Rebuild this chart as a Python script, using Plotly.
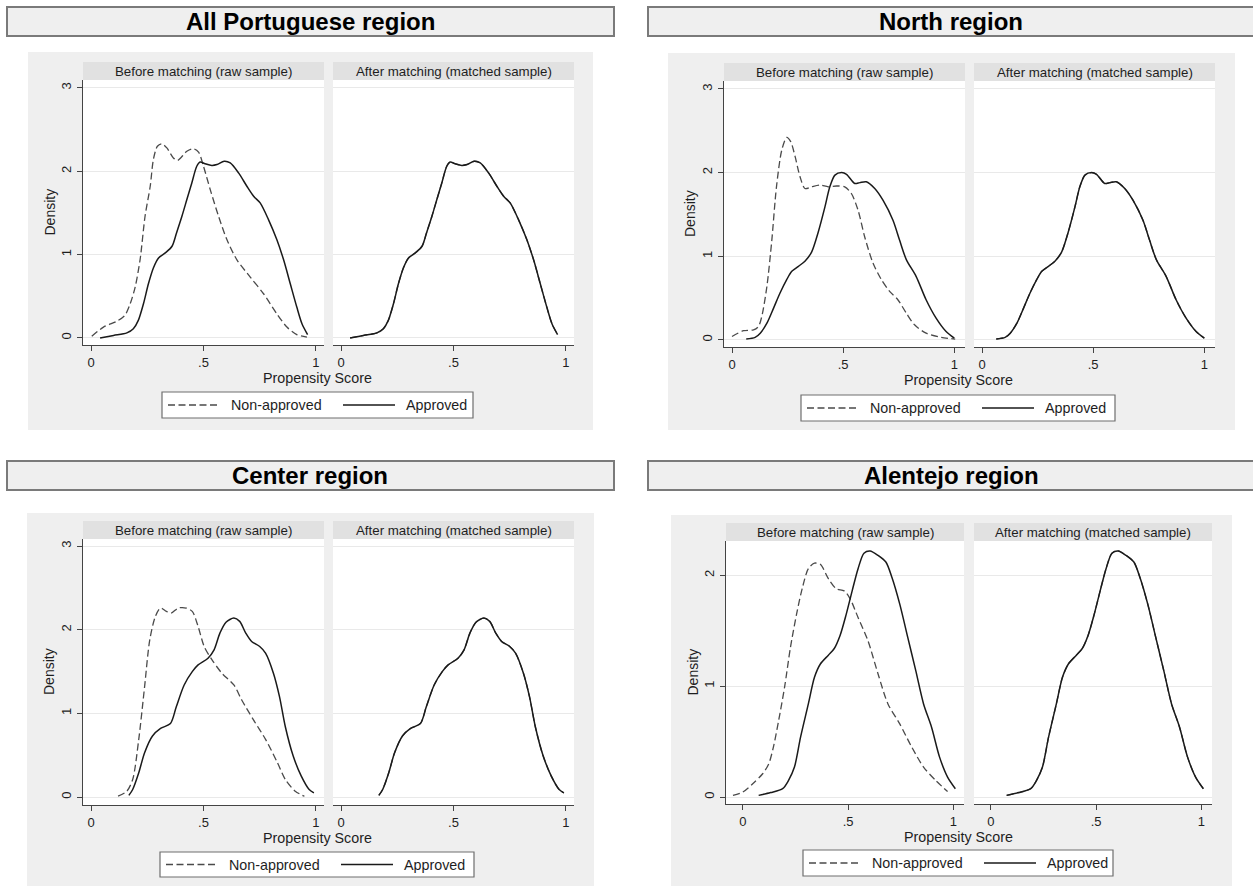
import plotly.graph_objects as go

W, H = 1253, 886

# ---------------- data ----------------
region_titles = ["All Portuguese region", "North region", "Center region", "Alentejo region"]
panel_titles = ["Before matching (raw sample)", "After matching (matched sample)"]
legend_labels = ["Non-approved", "Approved"]
x_title = "Propensity Score"
y_title = "Density"
x_tickvals = [0, 0.5, 1]
x_ticktext = ["0", ".5", "1"]
y_ticks_3 = [0, 1, 2, 3]
y_ticks_2 = [0, 1, 2]

# All Portuguese region
all_non_x = [0.003, 0.055, 0.114, 0.15, 0.174, 0.196, 0.218, 0.24, 0.263, 0.277, 0.295, 0.315, 0.337, 0.366,
             0.385, 0.426, 0.455, 0.478, 0.5, 0.53, 0.567, 0.604, 0.648, 0.708, 0.767, 0.826, 0.871, 0.915, 0.96]
all_non_y = [0.02, 0.13, 0.2, 0.27, 0.41, 0.61, 0.94, 1.46, 1.82, 2.14, 2.30, 2.33, 2.28, 2.16,
             2.13, 2.24, 2.27, 2.23, 2.06, 1.78, 1.46, 1.18, 0.94, 0.73, 0.53, 0.29, 0.13, 0.04, 0.01]
all_app_x = [0.04, 0.1, 0.159, 0.188, 0.21, 0.233, 0.255, 0.277, 0.3, 0.33, 0.36, 0.38, 0.404, 0.426, 0.448,
             0.47, 0.485, 0.507, 0.537, 0.56, 0.592, 0.619, 0.656, 0.693, 0.723, 0.752, 0.789, 0.826, 0.856,
             0.886, 0.915, 0.938, 0.963]
all_app_y = [0.0, 0.03, 0.06, 0.11, 0.21, 0.41, 0.65, 0.84, 0.96, 1.02, 1.1, 1.26, 1.46, 1.66, 1.86,
             2.06, 2.11, 2.09, 2.07, 2.08, 2.12, 2.10, 1.98, 1.82, 1.70, 1.62, 1.42, 1.18, 0.94,
             0.65, 0.37, 0.17, 0.04]

# North region
north_non_x = [0.0, 0.052, 0.097, 0.119, 0.134, 0.157, 0.179, 0.2, 0.224, 0.246, 0.264, 0.284, 0.306, 0.328,
               0.358, 0.396, 0.433, 0.47, 0.507, 0.537, 0.567, 0.597, 0.634, 0.672, 0.709, 0.746, 0.784,
               0.821, 0.873, 0.94, 1.004]
north_non_y = [0.04, 0.11, 0.12, 0.16, 0.28, 0.64, 1.19, 1.83, 2.27, 2.42, 2.37, 2.19, 1.95, 1.81,
               1.83, 1.85, 1.83, 1.84, 1.83, 1.75, 1.55, 1.23, 0.92, 0.72, 0.58, 0.48, 0.32,
               0.18, 0.08, 0.03, 0.01]
north_app_x = [0.064, 0.104, 0.127, 0.157, 0.187, 0.216, 0.246, 0.269, 0.299, 0.328, 0.358, 0.388, 0.418,
               0.44, 0.463, 0.493, 0.515, 0.552, 0.575, 0.604, 0.642, 0.679, 0.724, 0.754, 0.784, 0.828,
               0.873, 0.918, 0.963, 1.0]
north_app_y = [0.01, 0.03, 0.08, 0.2, 0.38, 0.56, 0.72, 0.82, 0.88, 0.94, 1.05, 1.29, 1.59,
               1.83, 1.97, 2.0, 1.98, 1.87, 1.88, 1.89, 1.81, 1.67, 1.43, 1.19, 0.96, 0.76,
               0.48, 0.26, 0.1, 0.02]

# Center region
center_non_x = [0.12, 0.159, 0.185, 0.212, 0.238, 0.261, 0.286, 0.309, 0.335, 0.356, 0.388, 0.423, 0.45,
                0.476, 0.503, 0.538, 0.582, 0.635, 0.67, 0.723, 0.776, 0.829, 0.864, 0.908, 0.949]
center_non_y = [0.01, 0.07, 0.21, 0.69, 1.32, 1.88, 2.16, 2.26, 2.22, 2.2, 2.26, 2.26, 2.22,
                2.04, 1.8, 1.64, 1.48, 1.34, 1.16, 0.92, 0.69, 0.41, 0.21, 0.07, 0.01]
center_app_x = [0.168, 0.185, 0.212, 0.238, 0.273, 0.309, 0.353, 0.379, 0.414, 0.45, 0.476, 0.52, 0.547,
                0.573, 0.6, 0.635, 0.661, 0.688, 0.714, 0.75, 0.776, 0.811, 0.838, 0.864, 0.899, 0.935,
                0.97, 0.991]
center_app_y = [0.02, 0.09, 0.29, 0.53, 0.73, 0.82, 0.88, 1.08, 1.34, 1.5, 1.58, 1.66, 1.76,
                1.96, 2.09, 2.14, 2.1, 1.96, 1.86, 1.8, 1.72, 1.48, 1.2, 0.84, 0.49, 0.25,
                0.09, 0.05]

# Alentejo region
alentejo_non_x = [-0.047, 0.0, 0.047, 0.094, 0.123, 0.145, 0.17, 0.198, 0.226, 0.255, 0.283, 0.311, 0.34,
                  0.368, 0.406, 0.443, 0.481, 0.509, 0.547, 0.594, 0.642, 0.689, 0.745, 0.802, 0.858,
                  0.915, 0.972]
alentejo_non_y = [0.015, 0.045, 0.12, 0.21, 0.3, 0.45, 0.69, 0.99, 1.35, 1.65, 1.89, 2.06, 2.11,
                  2.1, 1.97, 1.88, 1.86, 1.79, 1.62, 1.41, 1.11, 0.84, 0.66, 0.45, 0.27,
                  0.15, 0.05]
alentejo_app_x = [0.075, 0.132, 0.189, 0.217, 0.245, 0.274, 0.311, 0.34, 0.368, 0.406, 0.434, 0.462, 0.491,
                  0.519, 0.547, 0.575, 0.604, 0.642, 0.679, 0.708, 0.745, 0.783, 0.821, 0.858, 0.896,
                  0.934, 0.972, 1.009]
alentejo_app_y = [0.015, 0.04, 0.075, 0.15, 0.27, 0.54, 0.84, 1.08, 1.2, 1.28, 1.34, 1.46, 1.65,
                  1.86, 2.06, 2.2, 2.22, 2.18, 2.12, 1.98, 1.74, 1.44, 1.14, 0.84, 0.63,
                  0.36, 0.18, 0.075]

region_data = [
    (all_non_x, all_non_y, all_app_x, all_app_y),
    (north_non_x, north_non_y, north_app_x, north_app_y),
    (center_non_x, center_non_y, center_app_x, center_app_y),
    (alentejo_non_x, alentejo_non_y, alentejo_app_x, alentejo_app_y),
]

# ---------------- layout geometry (pixels) ----------------
quads = [
    dict(title_box=(7, 7, 614, 36), title_cx=310, bg=(28, 52, 593, 430),
         plots=[(83, 324), (333, 574)], py=(80, 345),
         xr=[-0.036, 1.036], yr=[-0.085, 3.095], yt=y_ticks_3,
         dens_x=49, ps=(317, 378), leg=(162, 392, 473, 418)),
    dict(title_box=(648, 7, 1262, 36), title_cx=951, bg=(668, 53, 1235, 430),
         plots=[(724, 965), (974, 1215)], py=(81, 347),
         xr=[-0.036, 1.048], yr=[-0.085, 3.095], yt=y_ticks_3,
         dens_x=690, ps=(958, 380), leg=(801, 395, 1115, 421)),
    dict(title_box=(7, 461, 614, 490), title_cx=310, bg=(27, 513, 594, 890),
         plots=[(83, 324), (333, 574)], py=(539, 805),
         xr=[-0.036, 1.036], yr=[-0.095, 3.085], yt=y_ticks_3,
         dens_x=49, ps=(317, 838), leg=(160, 852, 474, 877)),
    dict(title_box=(648, 461, 1262, 490), title_cx=951, bg=(671, 515, 1232, 890),
         plots=[(726, 964), (974, 1212)], py=(541, 804),
         xr=[-0.08, 1.05], yr=[-0.063, 2.31], yt=y_ticks_2,
         dens_x=692, ps=(958, 837), leg=(803, 850, 1113, 876)),
]


def px(x):
    return x / W


def py_(y):
    return 1 - y / H


FONT = "Liberation Sans, Arial, sans-serif"
TXT = "#1e1e1e"
NON_COLOR = "#4a4a4a"
APP_COLOR = "#1a1a1a"
DASH = "7px,3.5px"

fig = go.Figure()
shapes = []
annotations = []
layout_axes = {}

ax_idx = 0
for qi, q in enumerate(quads):
    # title box
    x0, y0, x1, y1 = q["title_box"]
    shapes.append(dict(type="rect", xref="paper", yref="paper", x0=px(x0), x1=px(x1), y0=py_(y1), y1=py_(y0),
                       fillcolor="#efefef", line=dict(color="#7a7a7a", width=2), layer="below"))
    annotations.append(dict(x=px(q["title_cx"]), y=py_((y0 + y1) / 2), xref="paper", yref="paper",
                            text="<b>" + region_titles[qi] + "</b>", showarrow=False,
                            font=dict(family=FONT, size=24, color="#000000"),
                            xanchor="center", yanchor="middle"))
    # grey graph region
    bx0, by0, bx1, by1 = q["bg"]
    shapes.append(dict(type="rect", xref="paper", yref="paper", x0=px(bx0), x1=px(bx1), y0=py_(by1), y1=py_(by0),
                       fillcolor="#efefef", line=dict(width=0), layer="below"))
    top, bot = q["py"]
    non_x, non_y, app_x, app_y = region_data[qi]
    for pi, (lx, rx) in enumerate(q["plots"]):
        ax_idx += 1
        suffix = "" if ax_idx == 1 else str(ax_idx)
        # white plot area
        shapes.append(dict(type="rect", xref="paper", yref="paper", x0=px(lx), x1=px(rx), y0=py_(bot), y1=py_(top),
                           fillcolor="#ffffff", line=dict(width=0), layer="below"))
        # strip
        shapes.append(dict(type="rect", xref="paper", yref="paper", x0=px(lx), x1=px(rx), y0=py_(top), y1=py_(top - 18),
                           fillcolor="#e1e1e1", line=dict(width=0), layer="below"))
        annotations.append(dict(x=px((lx + rx) / 2), y=py_(top - 9), xref="paper", yref="paper",
                                text=panel_titles[pi], showarrow=False,
                                font=dict(family=FONT, size=13.3, color=TXT),
                                xanchor="center", yanchor="middle"))
        layout_axes["xaxis" + suffix] = dict(
            domain=[px(lx), px(rx)], range=q["xr"], anchor="y" + suffix,
            tickvals=x_tickvals, ticktext=x_ticktext, ticks="outside", ticklen=5, tickcolor="#444",
            showline=True, linecolor="#444", linewidth=1, showgrid=False, zeroline=False,
            tickfont=dict(family=FONT, size=13, color=TXT), fixedrange=True)
        layout_axes["yaxis" + suffix] = dict(
            domain=[py_(bot), py_(top)], range=q["yr"], anchor="x" + suffix,
            tickvals=q["yt"], ticktext=[str(v) for v in q["yt"]],
            ticks="outside" if pi == 0 else "", ticklen=5, tickcolor="#444",
            showticklabels=(pi == 0), tickangle=-90, ticklabelstandoff=1,
            showline=(pi == 0), linecolor="#444", linewidth=1,
            showgrid=True, gridcolor="#e9e9e9", gridwidth=1, zeroline=False,
            tickfont=dict(family=FONT, size=13, color=TXT), fixedrange=True)
        xa = "x" + suffix
        ya = "y" + suffix
        # after matching: matched samples overlap (same curve)
        fig.add_trace(go.Scatter(x=non_x if pi == 0 else app_x, y=non_y if pi == 0 else app_y,
                                 xaxis=xa, yaxis=ya, mode="lines", showlegend=False,
                                 line=dict(color=NON_COLOR, width=1.3, dash=DASH, shape="spline", smoothing=0.8),
                                 name=legend_labels[0]))
        fig.add_trace(go.Scatter(x=app_x, y=app_y, xaxis=xa, yaxis=ya, mode="lines", showlegend=False,
                                 line=dict(color=APP_COLOR, width=1.5, shape="spline", smoothing=0.8),
                                 name=legend_labels[1]))
    # axis titles
    annotations.append(dict(x=px(q["dens_x"]), y=py_((top + bot) / 2), xref="paper", yref="paper",
                            text=y_title, textangle=-90, showarrow=False,
                            font=dict(family=FONT, size=14, color=TXT), xanchor="center", yanchor="middle"))
    annotations.append(dict(x=px(q["ps"][0]), y=py_(q["ps"][1]), xref="paper", yref="paper",
                            text=x_title, showarrow=False,
                            font=dict(family=FONT, size=14.3, color=TXT), xanchor="center", yanchor="middle"))
    # legend box
    lx0, ly0, lx1, ly1 = q["leg"]
    shapes.append(dict(type="rect", xref="paper", yref="paper", x0=px(lx0), x1=px(lx1), y0=py_(ly1), y1=py_(ly0),
                       fillcolor="#ffffff", line=dict(color="#6e6e6e", width=1.2), layer="below"))
    ymid = (ly0 + ly1) / 2
    shapes.append(dict(type="line", xref="paper", yref="paper", x0=px(lx0 + 6), x1=px(lx0 + 58),
                       y0=py_(ymid), y1=py_(ymid), line=dict(color=NON_COLOR, width=1.3, dash=DASH)))
    shapes.append(dict(type="line", xref="paper", yref="paper", x0=px(lx0 + 181), x1=px(lx0 + 233),
                       y0=py_(ymid), y1=py_(ymid), line=dict(color=APP_COLOR, width=1.5)))
    annotations.append(dict(x=px(lx0 + 67), y=py_(ymid), xref="paper", yref="paper", text=legend_labels[0],
                            showarrow=False, font=dict(family=FONT, size=14.3, color=TXT),
                            xanchor="left", yanchor="middle"))
    annotations.append(dict(x=px(lx0 + 242), y=py_(ymid), xref="paper", yref="paper", text=legend_labels[1],
                            showarrow=False, font=dict(family=FONT, size=14.3, color=TXT),
                            xanchor="left", yanchor="middle"))

fig.update_layout(
    width=W, height=H, autosize=False,
    margin=dict(l=0, r=0, t=0, b=0),
    paper_bgcolor="#ffffff", plot_bgcolor="#ffffff",
    showlegend=False, shapes=shapes, annotations=annotations,
    **layout_axes,
)

# remove the default 8px page margin so the figure sits at the window origin
fig.write_html("out.html", config={"displayModeBar": False},
               post_script="document.body.style.margin='0';")
